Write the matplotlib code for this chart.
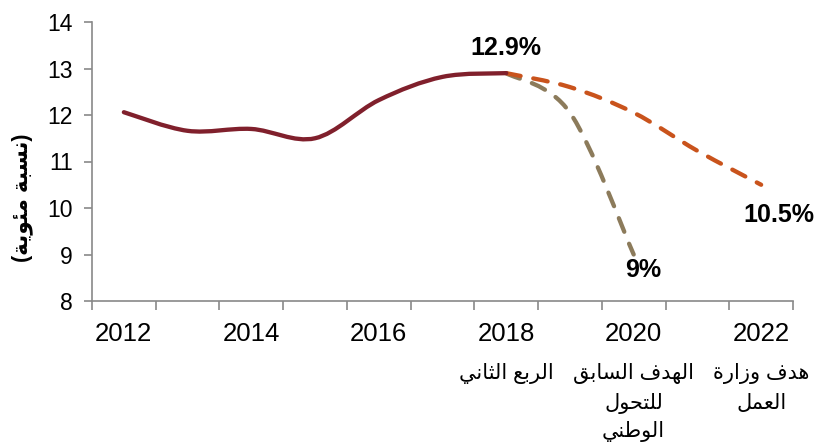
import matplotlib
matplotlib.use("Agg")
import matplotlib.pyplot as plt
from matplotlib.path import Path
from matplotlib.patches import PathPatch

# ---------------- data ----------------
years_actual = [2012, 2013, 2014, 2015, 2016, 2017, 2018]
rate_actual = [12.06, 11.66, 11.70, 11.50, 12.32, 12.82, 12.90]

years_prev_target = [2018, 2019, 2020]
rate_prev_target = [12.90, 12.05, 9.0]

years_ministry = [2018, 2019, 2020, 2021, 2022]
rate_ministry = [12.90, 12.60, 12.05, 11.23, 10.50]

tick_years = [2012, 2014, 2016, 2018, 2020, 2022]
tick_sub = ["", "", "", "الربع الثاني", "الهدف السابق\nللتحول\nالوطني", "هدف وزارة\nالعمل"]
ylabel_text = "(نسبة مئوية)"
annotations = [("12.9%", 2018, 12.9), ("9%", 2020, 9.0), ("10.5%", 2022, 10.5)]

# ---------------- minimal Arabic shaping ----------------
FORMS = {
    'ء': ('\uFE80', None, None, None),
    'ا': ('\uFE8D', '\uFE8E', None, None),
    'ب': ('\uFE8F', '\uFE90', '\uFE91', '\uFE92'),
    'ة': ('\uFE93', '\uFE94', None, None),
    'ت': ('\uFE95', '\uFE96', '\uFE97', '\uFE98'),
    'ث': ('\uFE99', '\uFE9A', '\uFE9B', '\uFE9C'),
    'ح': ('\uFEA1', '\uFEA2', '\uFEA3', '\uFEA4'),
    'د': ('\uFEA9', '\uFEAA', None, None),
    'ر': ('\uFEAD', '\uFEAE', None, None),
    'ز': ('\uFEAF', '\uFEB0', None, None),
    'س': ('\uFEB1', '\uFEB2', '\uFEB3', '\uFEB4'),
    'ط': ('\uFEC1', '\uFEC2', '\uFEC3', '\uFEC4'),
    'ع': ('\uFEC9', '\uFECA', '\uFECB', '\uFECC'),
    'ف': ('\uFED1', '\uFED2', '\uFED3', '\uFED4'),
    'ق': ('\uFED5', '\uFED6', '\uFED7', '\uFED8'),
    'ل': ('\uFEDD', '\uFEDE', '\uFEDF', '\uFEE0'),
    'م': ('\uFEE1', '\uFEE2', '\uFEE3', '\uFEE4'),
    'ن': ('\uFEE5', '\uFEE6', '\uFEE7', '\uFEE8'),
    'ه': ('\uFEE9', '\uFEEA', '\uFEEB', '\uFEEC'),
    'و': ('\uFEED', '\uFEEE', None, None),
    'ي': ('\uFEF1', '\uFEF2', '\uFEF3', '\uFEF4'),
    'ئ': ('\uFE89', '\uFE8A', '\uFE8B', '\uFE8C'),
}
MIRROR = {'(': ')', ')': '('}


def shape_line(s):
    out = []
    for i, c in enumerate(s):
        if c not in FORMS:
            out.append(MIRROR.get(c, c))
            continue
        iso, fin, ini, med = FORMS[c]
        prev = s[i - 1] if i > 0 else None
        nxt = s[i + 1] if i + 1 < len(s) else None
        jp = prev in FORMS and FORMS[prev][2] is not None
        jn = ini is not None and nxt in FORMS
        if jp and jn:
            f = med
        elif jp:
            f = fin
        elif jn:
            f = ini
        else:
            f = iso
        out.append(f)
    return "".join(reversed(out))


# ---------------- smooth path (Excel-like) ----------------
def smooth_path(xs, ys):
    pts = list(zip(xs, ys))
    n = len(pts)
    verts = [pts[0]]
    codes = [Path.MOVETO]
    for i in range(n - 1):
        p0 = pts[i - 1] if i > 0 else pts[i]
        p1 = pts[i]
        p2 = pts[i + 1]
        p3 = pts[i + 2] if i + 2 < n else pts[i + 1]
        c1 = (p1[0] + (p2[0] - p0[0]) / 6, p1[1] + (p2[1] - p0[1]) / 6)
        c2 = (p2[0] - (p3[0] - p1[0]) / 6, p2[1] - (p3[1] - p1[1]) / 6)
        verts += [c1, c2, p2]
        codes += [Path.CURVE4] * 3
    return Path(verts, codes)


FAM = ['Liberation Sans', 'DejaVu Sans']
plt.rcParams['font.family'] = FAM

W, H = 816, 446
fig = plt.figure(figsize=(W / 100, H / 100), dpi=100)
AX_L, AX_R, AX_T, AX_B = 92, 793, 22, 301
ax = fig.add_axes([AX_L / W, 1 - AX_B / H, (AX_R - AX_L) / W, (AX_B - AX_T) / H])

grey_col = '#8C7B5B'
orange_col = '#C9531C'
maroon_col = '#80202C'

for xs, ys, col, dashed, z in [
    (years_prev_target, rate_prev_target, grey_col, True, 2),
    (years_ministry, rate_ministry, orange_col, True, 3),
    (years_actual, rate_actual, maroon_col, False, 4),
]:
    patch = PathPatch(smooth_path(xs, ys), fill=False, edgecolor=col, lw=3.1,
                      zorder=z, capstyle='round', joinstyle='round')
    if dashed:
        patch.set_linestyle((0, (3.4, 3.0)))
    ax.add_patch(patch)

ax.set_xlim(2011.5, 2022.5)
ax.set_ylim(8, 14)

for s in ['top', 'right']:
    ax.spines[s].set_visible(False)
for s in ['left', 'bottom']:
    ax.spines[s].set_color('#898989')
    ax.spines[s].set_linewidth(1.2)

ax.set_yticks(range(8, 15))
ax.tick_params(axis='y', direction='out', length=6, width=1.2, color='#898989',
               labelsize=16.5, pad=8)

# major ticks at category boundaries, labels at category centres
ax.set_xticks([2011.5 + k for k in range(12)])
ax.set_xticklabels([])
ax.tick_params(axis='x', which='major', direction='out', length=6.5, width=1.2,
               color='#898989')
ax.set_xticks(tick_years, [str(y) for y in tick_years], minor=True)
ax.tick_params(axis='x', which='minor', length=0, labelsize=18.5, pad=15)

# Arabic sub-labels under the years
line_centres_px = [373, 403, 431]
xtr = ax.get_xaxis_transform()
for yr, sub in zip(tick_years, tick_sub):
    if not sub:
        continue
    for k, line in enumerate(sub.split("\n")):
        ypx = line_centres_px[k]
        ax.text(yr, -(ypx - AX_B) / (AX_B - AX_T), shape_line(line), transform=xtr,
                ha='center', va='center', fontsize=15, clip_on=False)

# annotations
offsets = {"12.9%": (0.0, 0.54), "9%": (0.15, -0.33), "10.5%": (0.28, -0.65)}
for txt, x, y in annotations:
    dx, dy = offsets[txt]
    ax.text(x + dx, y + dy, txt, ha='center', va='center', fontsize=18,
            fontweight='bold', color='black', zorder=6)

fig.text(22 / W, 1 - 198 / H, shape_line(ylabel_text), rotation=90, ha='center',
         va='center', fontsize=15.5, fontweight='bold')

fig.savefig('out.png', dpi=100)
